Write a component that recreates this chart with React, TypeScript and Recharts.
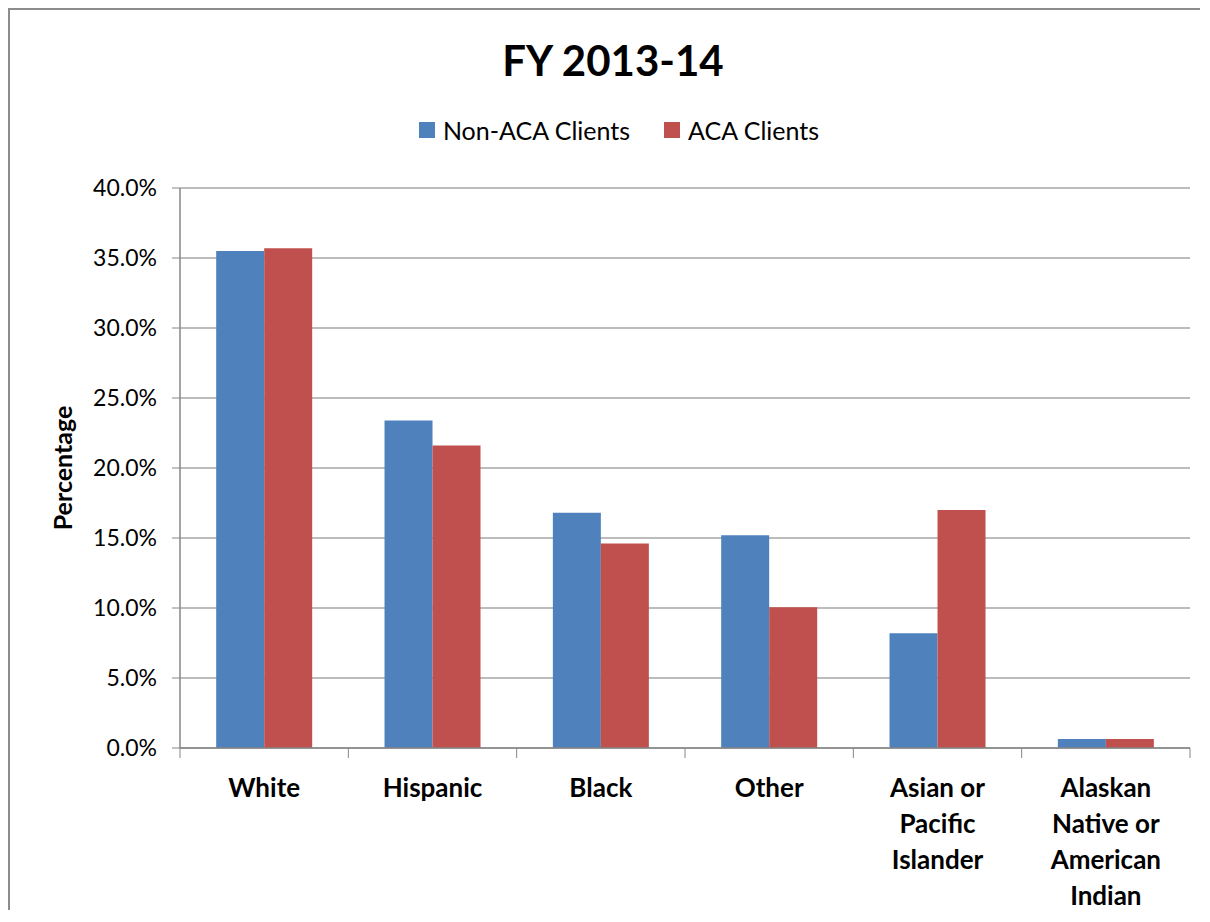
import { BarChart, Bar, XAxis, YAxis, CartesianGrid, Legend } from "recharts";

const categories = [
    "White",
    "Hispanic",
    "Black",
    "Other",
    "Asian or Pacific Islander",
    "Alaskan Native or American Indian",
];
const categoryLines = [
    ["White"],
    ["Hispanic"],
    ["Black"],
    ["Other"],
    ["Asian or", "Pacific", "Islander"],
    ["Alaskan", "Native or", "American", "Indian"],
];
const nonAcaClients = [35.5, 23.4, 16.8, 15.2, 8.2, 0.65];
const acaClients = [35.7, 21.6, 14.6, 10.05, 17.0, 0.65];
const yTicks = [0, 5, 10, 15, 20, 25, 30, 35, 40];

const BLUE = "#4F81BD";
const RED = "#C0504D";
const FONT = "Lato, 'Open Sans', sans-serif";

const CHART_W = 1190;
const CHART_H = 900;
const MARGIN = { top: 138, right: 10, left: 0, bottom: 12 };
const Y_AXIS_W = 170;
const PLOT_W = CHART_W - MARGIN.left - MARGIN.right - Y_AXIS_W;
const BAND = PLOT_W / categories.length;

const data = categories.map((name, i) => ({
    name,
    nonAca: nonAcaClients[i],
    aca: acaClients[i],
}));

function CategoryTick(props: any) {
    const { x, y, payload, index } = props;
    const lines = categoryLines[payload.index ?? index] || [payload.value];
    return (
        <g>
            <line x1={x - BAND / 2} x2={x - BAND / 2} y1={y} y2={y + 10} stroke="#868686" />
            {index === categories.length - 1 && (
                <line x1={x + BAND / 2} x2={x + BAND / 2} y1={y} y2={y + 10} stroke="#868686" />
            )}
            <text
                x={x}
                y={y}
                textAnchor="middle"
                fill="#000"
                fontFamily={FONT}
                fontWeight="bold"
                fontSize={26}
            >
                {lines.map((line: string, i: number) => (
                    <tspan key={i} x={x} y={y + 49 + i * 36}>
                        {line}
                    </tspan>
                ))}
            </text>
        </g>
    );
}

function PercentLabel(props: any) {
    const { viewBox } = props;
    const cx = 52;
    const cy = viewBox.y + viewBox.height / 2;
    return (
        <text
            x={cx}
            y={cy}
            transform={`rotate(-90, ${cx}, ${cy})`}
            textAnchor="middle"
            dominantBaseline="central"
            fontFamily={FONT}
            fontWeight="bold"
            fontSize={25}
            fill="#000"
        >
            Percentage
        </text>
    );
}

function LegendContent() {
    const items = [
        { label: "Non-ACA Clients", color: BLUE },
        { label: "ACA Clients", color: RED },
    ];
    return (
        <div
            style={{
                display: "flex",
                justifyContent: "center",
                alignItems: "center",
                height: 40,
                gap: 34,
                fontFamily: FONT,
                fontSize: 25,
                color: "#000",
            }}
        >
            {items.map((it) => (
                <div key={it.label} style={{ display: "flex", alignItems: "center" }}>
                    <span
                        style={{
                            width: 16,
                            height: 16,
                            background: it.color,
                            display: "inline-block",
                            marginRight: 8,
                        }}
                    />
                    <span>{it.label}</span>
                </div>
            ))}
        </div>
    );
}

export default function App() {
    return (
        <div
            style={{
                position: "relative",
                width: CHART_W,
                height: CHART_H,
                borderLeft: "2px solid #8c8c8c",
                borderTop: "2px solid #8c8c8c",
                background: "#fff",
            }}
        >
            <div
                style={{
                    position: "absolute",
                    left: 303,
                    top: 24,
                    width: 600,
                    textAlign: "center",
                    fontFamily: FONT,
                    fontWeight: "bold",
                    fontSize: 42,
                    lineHeight: "52px",
                    color: "#000",
                    zIndex: 1,
                }}
            >
                FY 2013-14
            </div>
            <BarChart
                width={CHART_W}
                height={CHART_H}
                data={data}
                margin={MARGIN}
                barCategoryGap="21.5%"
                barGap={0}
            >
                <CartesianGrid vertical={false} stroke="#a6a6a6" strokeWidth={1.5} />
                <XAxis
                    dataKey="name"
                    height={150}
                    interval={0}
                    tickSize={0}
                    tickMargin={0}
                    tickLine={false}
                    axisLine={{ stroke: "#868686", strokeWidth: 1.5 }}
                    tick={<CategoryTick />}
                />
                <YAxis
                    width={Y_AXIS_W}
                    domain={[0, 40]}
                    ticks={yTicks}
                    interval={0}
                    tickSize={8}
                    tickMargin={15}
                    tickFormatter={(v: number) => `${v.toFixed(1)}%`}
                    tick={{ fill: "#000", fontFamily: FONT, fontSize: 23 }}
                    tickLine={{ stroke: "#868686" }}
                    axisLine={{ stroke: "#868686", strokeWidth: 1.5 }}
                    label={<PercentLabel />}
                />
                <Legend
                    verticalAlign="top"
                    content={<LegendContent />}
                    wrapperStyle={{ top: 100, left: 28, width: 1162 }}
                />
                <Bar dataKey="nonAca" name="Non-ACA Clients" fill={BLUE} isAnimationActive={false} />
                <Bar dataKey="aca" name="ACA Clients" fill={RED} isAnimationActive={false} />
            </BarChart>
        </div>
    );
}
